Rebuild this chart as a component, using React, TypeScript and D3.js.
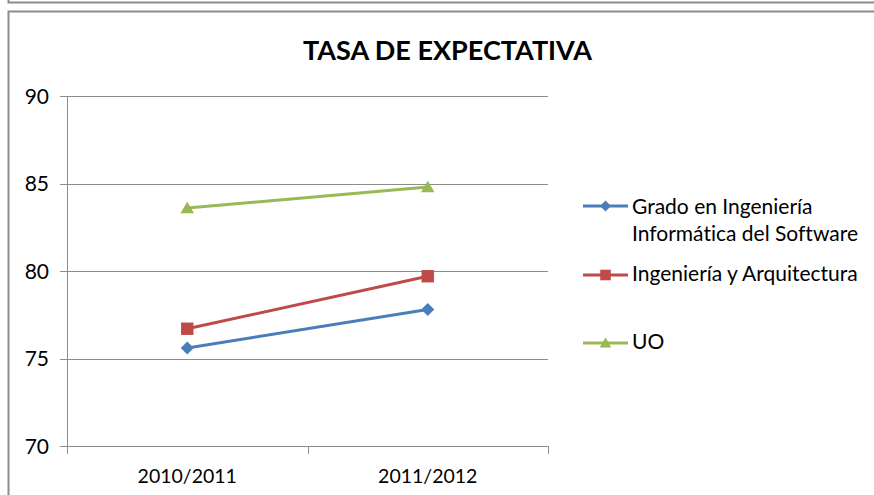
import React from "react";
import * as d3 from "d3";

const categories = ["2010/2011", "2011/2012"];
const seriesNames = [
  ["Grado en Ingeniería", "Informática del Software"],
  ["Ingeniería y Arquitectura"],
  ["UO"],
];
const gradoValues = [75.6, 77.8];
const ingArqValues = [76.7, 79.7];
const uoValues = [83.6, 84.8];
const yTicks = [70, 75, 80, 85, 90];
const title = "TASA DE EXPECTATIVA";

const colors = ["#4A7EBB", "#BE4B48", "#98B954"];
const markers = ["diamond", "square", "triangle"];
const FONT = "Lato, 'Open Sans', sans-serif";

function Marker({ type, x, y, color, s = 1 }: any) {
  if (type === "diamond") {
    const r = 6.5 * s;
    return <path d={`M${x},${y - r}L${x + r},${y}L${x},${y + r}L${x - r},${y}Z`} fill={color} />;
  }
  if (type === "square") {
    const r = 6.2 * s;
    return <rect x={x - r} y={y - r} width={2 * r} height={2 * r} fill={color} />;
  }
  const w = 6.8 * s;
  const h = 11.5 * s;
  return <path d={`M${x},${y - h * 0.55}L${x + w},${y + h * 0.45}L${x - w},${y + h * 0.45}Z`} fill={color} />;
}

export default function App() {
  React.useEffect(() => {
    document.body.style.margin = "0";
  }, []);
  const W = 874;
  const H = 495;
  const x = d3.scaleBand<string>().domain(categories).range([67, 548]);
  const y = d3.scaleLinear().domain([70, 90]).range([446, 96]);
  const cx = (c: string) => (x(c) as number) + x.bandwidth() / 2;
  const series = [gradoValues, ingArqValues, uoValues];
  const line = d3
    .line<number>()
    .x((_, i) => cx(categories[i]))
    .y((v) => y(v));
  const frame = "#8C8C8C";
  const grid = "#8C8C8C";
  const legendRows = [
    { markerY: 206, baselines: [213.5, 240.5] },
    { markerY: 275, baselines: [280.5] },
    { markerY: 343, baselines: [349] },
  ];
  const xTickPos = [67, ...categories.map((c) => (x(c) as number) + x.bandwidth())];
  return (
    <svg
      width={W}
      height={H}
      style={{ position: "absolute", left: 0, top: 0, display: "block", fontVariantLigatures: "none" }}
      fontFamily={FONT}
    >
      <rect x={0} y={0} width={W} height={H} fill="#fff" />
      {/* upper frame remnant */}
      <path d={`M8.5,0V2.5H${W}`} fill="none" stroke={frame} strokeWidth={2} />
      {/* chart frame */}
      <path d={`M8.5,${H}V11.5H${W}`} fill="none" stroke={frame} strokeWidth={2} />
      <text x={447.5} y={60} textAnchor="middle" fontSize={27} fontWeight="bold" fill="#000">
        {title}
      </text>
      {/* gridlines */}
      {yTicks.map((t) => (
        <g key={t}>
          <line x1={60} x2={548} y1={Math.round(y(t)) + 0.5} y2={Math.round(y(t)) + 0.5} stroke={grid} strokeWidth={1} />
          <text x={49} y={y(t)} dy="0.36em" textAnchor="end" fontSize={21} fill="#000">
            {t}
          </text>
        </g>
      ))}
      {/* y axis */}
      <line x1={67.5} x2={67.5} y1={y(90)} y2={y(70)} stroke={grid} strokeWidth={1} />
      {/* x axis ticks */}
      {xTickPos.map((p, i) => (
        <line key={i} x1={Math.round(p) + 0.5} x2={Math.round(p) + 0.5} y1={y(70)} y2={454} stroke={grid} strokeWidth={1} />
      ))}
      {categories.map((c) => (
        <text key={c} x={cx(c)} y={483} textAnchor="middle" fontSize={19.5} fill="#000">
          {c}
        </text>
      ))}
      {/* series */}
      {series.map((vals, si) => (
        <g key={si}>
          <path d={line(vals) as string} fill="none" stroke={colors[si]} strokeWidth={3} strokeLinecap="round" />
          {vals.map((v, i) => (
            <Marker key={i} type={markers[si]} x={cx(categories[i])} y={y(v)} color={colors[si]} />
          ))}
        </g>
      ))}
      {/* legend */}
      {legendRows.map((r, si) => (
        <g key={si}>
          <line x1={583} x2={628} y1={r.markerY} y2={r.markerY} stroke={colors[si]} strokeWidth={3} />
          <Marker type={markers[si]} x={605.5} y={r.markerY} color={colors[si]} s={0.85} />
          {seriesNames[si].map((t, li) => (
            <text key={li} x={632} y={r.baselines[li]} fontSize={21} fill="#000">
              {t}
            </text>
          ))}
        </g>
      ))}
    </svg>
  );
}
